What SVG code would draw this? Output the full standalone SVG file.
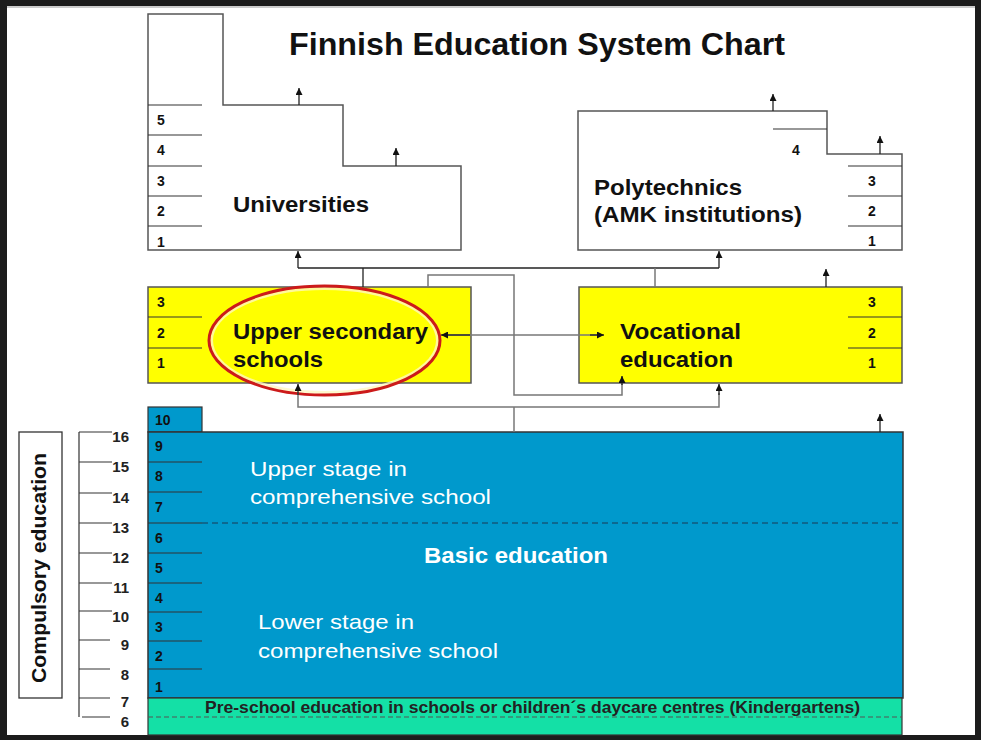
<svg xmlns="http://www.w3.org/2000/svg" width="981" height="740" viewBox="0 0 981 740">
<style>
.box{stroke:#555;stroke-width:1.5}
.tick{stroke:#333;stroke-width:1.2}
.yr{font-family:"Liberation Sans",Arial,sans-serif;font-weight:bold;font-size:14px;fill:#111}
.lbl{font-family:"Liberation Sans",Arial,sans-serif;font-weight:bold;font-size:22px;fill:#111}
.wl{font-family:"Liberation Sans",Arial,sans-serif;font-size:21px;fill:#fff}
.age{font-family:"Liberation Sans",Arial,sans-serif;font-weight:bold;font-size:15px;fill:#222;text-anchor:end}
.blk{stroke:#222;stroke-width:1.3;fill:none}
.gry{stroke:#777;stroke-width:1.5;fill:none}
</style>
<defs>
<marker id="ah" viewBox="0 0 10 10" refX="10" refY="5" markerUnits="userSpaceOnUse" markerWidth="7" markerHeight="7" orient="auto">
<path d="M0,0 L10,5 L0,10 z" fill="#111"/>
</marker>
</defs>
<rect x="0" y="0" width="981" height="740" fill="#1c1c1c"/>
<rect x="7" y="6" width="968" height="729" fill="#fff"/>
<rect x="7" y="6" width="968" height="2" fill="#ccc"/>
<text x="537" y="55" text-anchor="middle" font-family="Liberation Sans, Arial, sans-serif" font-weight="bold" font-size="31" fill="#111" textLength="496" lengthAdjust="spacingAndGlyphs">Finnish Education System Chart</text>

<g id="universities">
<path class="box" fill="#fff" d="M148,14 H223 V105 H343 V166 H461 V250 H148 Z"/>
<path class="tick" d="M148,105 H202 M148,135 H202 M148,166 H202 M148,196 H202 M148,226 H202"/>
<text class="yr" x="157" y="125">5</text>
<text class="yr" x="157" y="155">4</text>
<text class="yr" x="157" y="186">3</text>
<text class="yr" x="157" y="216">2</text>
<text class="yr" x="157" y="247">1</text>
<text class="lbl" x="233" y="212" textLength="136" lengthAdjust="spacingAndGlyphs">Universities</text>
</g>

<g id="polytechnics">
<path class="box" fill="#fff" d="M578,111 H827 V154 H902 V250 H578 Z"/>
<path class="tick" d="M773,129 H827 M848,166 H902 M848,196 H902 M848,226 H902"/>
<text class="yr" x="792" y="155">4</text>
<text class="yr" x="868" y="186">3</text>
<text class="yr" x="868" y="216">2</text>
<text class="yr" x="868" y="246">1</text>
<text class="lbl" x="594" y="195" textLength="148" lengthAdjust="spacingAndGlyphs">Polytechnics</text>
<text class="lbl" x="594" y="222" textLength="208" lengthAdjust="spacingAndGlyphs">(AMK institutions)</text>
</g>

<g id="upper-secondary">
<rect class="box" x="148" y="287" width="323" height="96" fill="#ffff00"/>
<path class="tick" d="M148,317 H202 M148,348 H202"/>
<text class="yr" x="157" y="307">3</text>
<text class="yr" x="157" y="338">2</text>
<text class="yr" x="157" y="368">1</text>
<text class="lbl" x="233" y="339" textLength="195" lengthAdjust="spacingAndGlyphs">Upper secondary</text>
<text class="lbl" x="233" y="367" textLength="90" lengthAdjust="spacingAndGlyphs">schools</text>
</g>

<g id="vocational">
<rect class="box" x="579" y="287" width="323" height="96" fill="#ffff00"/>
<path class="tick" d="M848,317 H902 M848,348 H902"/>
<text class="yr" x="868" y="307">3</text>
<text class="yr" x="868" y="338">2</text>
<text class="yr" x="868" y="368">1</text>
<text class="lbl" x="620" y="339" textLength="121" lengthAdjust="spacingAndGlyphs">Vocational</text>
<text class="lbl" x="620" y="367" textLength="113" lengthAdjust="spacingAndGlyphs">education</text>
</g>

<g id="basic-education">
<rect x="148" y="407" width="54" height="25" fill="#0099cc" stroke="#333" stroke-width="1.2"/>
<text class="yr" x="155" y="425">10</text>
<rect x="148" y="432" width="755" height="266" fill="#0099cc" stroke="#333" stroke-width="1.5"/>
<path class="tick" d="M148,462 H202 M148,492 H202 M148,523 H202 M148,553 H202 M148,583 H202 M148,612 H202 M148,641 H202 M148,669 H202"/>
<path d="M202,523 H902" stroke="#1b3b55" stroke-width="1.2" stroke-dasharray="6 4"/>
<text class="yr" x="155" y="451">9</text>
<text class="yr" x="155" y="481">8</text>
<text class="yr" x="155" y="512">7</text>
<text class="yr" x="155" y="543">6</text>
<text class="yr" x="155" y="573">5</text>
<text class="yr" x="155" y="603">4</text>
<text class="yr" x="155" y="632">3</text>
<text class="yr" x="155" y="661">2</text>
<text class="yr" x="155" y="692">1</text>
<text class="wl" x="250" y="476" textLength="157" lengthAdjust="spacingAndGlyphs">Upper stage in</text>
<text class="wl" x="250" y="504" textLength="241" lengthAdjust="spacingAndGlyphs">comprehensive school</text>
<text x="424" y="563" font-family="Liberation Sans, Arial, sans-serif" font-weight="bold" font-size="22" fill="#fff" textLength="184" lengthAdjust="spacingAndGlyphs">Basic education</text>
<text class="wl" x="258" y="629" textLength="156" lengthAdjust="spacingAndGlyphs">Lower stage in</text>
<text class="wl" x="258" y="658" textLength="240" lengthAdjust="spacingAndGlyphs">comprehensive school</text>
</g>

<g id="pre-school">
<rect x="148" y="698" width="754" height="37" fill="#14e0a6" stroke="#333" stroke-width="1.2"/>
<path d="M148,717 H902" stroke="#555" stroke-width="1" stroke-dasharray="5 3"/>
<text x="205" y="713" font-family="Liberation Sans, Arial, sans-serif" font-weight="bold" font-size="16.5" fill="#222" textLength="655" lengthAdjust="spacingAndGlyphs">Pre-school education in schools or children´s daycare centres (Kindergartens)</text>
</g>

<g id="compulsory">
<rect x="19" y="432" width="43" height="266" fill="#fff" stroke="#333" stroke-width="1.3"/>
<text transform="translate(46,568) rotate(-90)" text-anchor="middle" font-family="Liberation Sans, Arial, sans-serif" font-weight="bold" font-size="20" fill="#111" textLength="230" lengthAdjust="spacingAndGlyphs">Compulsory education</text>
</g>

<g id="ages">
<path class="tick" d="M79,432 V717 M79,432 H112 M79,462 H112 M79,493 H112 M79,523 H112 M79,553 H112 M79,583 H112 M79,611 H112 M79,640 H110 M79,669 H110 M79,698 H110 M82,717 H110"/>
<text class="age" x="129" y="442">16</text>
<text class="age" x="129" y="472">15</text>
<text class="age" x="129" y="503">14</text>
<text class="age" x="129" y="533">13</text>
<text class="age" x="129" y="563">12</text>
<text class="age" x="129" y="593">11</text>
<text class="age" x="129" y="622">10</text>
<text class="age" x="129" y="650">9</text>
<text class="age" x="129" y="680">8</text>
<text class="age" x="129" y="707">7</text>
<text class="age" x="129" y="727">6</text>
</g>

<g id="highlight">
<ellipse cx="324.5" cy="340.5" rx="113" ry="52" fill="none" stroke="#fff8c0" stroke-width="3" opacity="0.8"/>
<ellipse cx="324.5" cy="340.5" rx="115.5" ry="54.5" fill="none" stroke="#cc1a1a" stroke-width="3"/>
</g>

<g id="connectors">
<path class="blk" d="M299,105 V88" marker-end="url(#ah)"/>
<path class="blk" d="M396,166 V148" marker-end="url(#ah)"/>
<path class="blk" d="M773,111 V94" marker-end="url(#ah)"/>
<path class="blk" d="M880,154 V136" marker-end="url(#ah)"/>
<path class="blk" d="M826,287 V269" marker-end="url(#ah)"/>
<path class="blk" d="M880,432 V414" marker-end="url(#ah)"/>
<path class="blk" d="M298,268 H719"/>
<path class="blk" d="M298,268 V251" marker-end="url(#ah)"/>
<path class="blk" d="M719,268 V251" marker-end="url(#ah)"/>
<path class="blk" d="M363,268 V287"/>
<path class="gry" d="M655,268 V287"/>
<path class="gry" d="M428,287 V275 H514 V395 H622 V377"/>
<path class="blk" d="M622,385 V376" marker-end="url(#ah)"/>
<path class="gry" d="M442,335 H600"/>
<path class="blk" d="M470,335 H441" marker-end="url(#ah)"/>
<path class="blk" d="M590,335 H604" marker-end="url(#ah)"/>
<path class="gry" d="M298,393 V407 H719 V393"/>
<path class="blk" d="M298,395 V384" marker-end="url(#ah)"/>
<path class="blk" d="M719,395 V384" marker-end="url(#ah)"/>
<path class="gry" d="M514,407 V432"/>
</g>
</svg>
